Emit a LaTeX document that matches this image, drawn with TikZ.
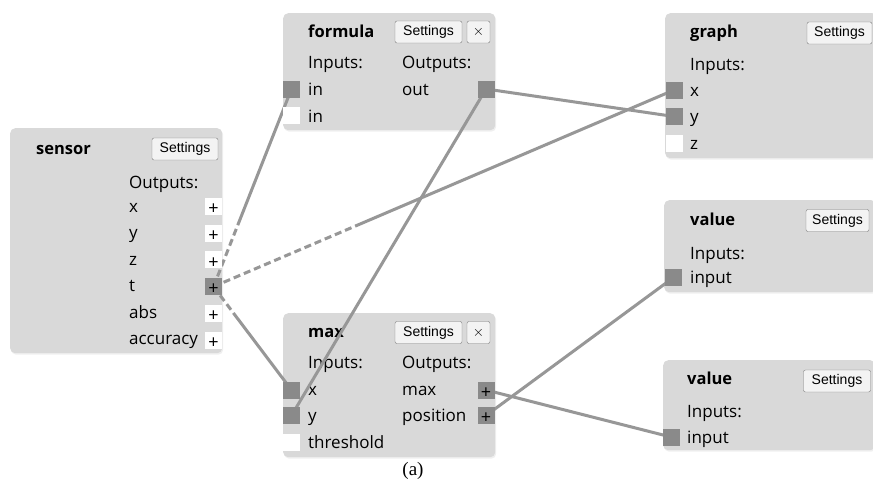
\documentclass[tikz,border=0pt]{standalone}
\usepackage{fontspec}
\usepackage{tikz}
\usetikzlibrary{positioning, shadows}
\newfontfamily\uifont{Open Sans}
\newfontfamily\btnfont{Liberation Sans}
\newfontfamily\capfont{Liberation Serif}
\definecolor{panelgray}{HTML}{D9D9D9}
\definecolor{portgray}{HTML}{8A8A8A}
\definecolor{wiregray}{HTML}{979797}
\definecolor{btnfill}{HTML}{F3F3F3}
\definecolor{btnline}{HTML}{7C7C7C}
\pgfdeclarelayer{front}
\pgfsetlayers{main,front}

\tikzset{
  panel/.style={fill=panelgray, rounded corners=5pt, anchor=north west, inner sep=0pt,
    drop shadow={opacity=0.12, shadow xshift=1pt, shadow yshift=-1.5pt}},
  title/.style={anchor=base west, inner sep=0pt, font=\uifont\bfseries\fontsize{16.5}{19}\selectfont},
  txt/.style={anchor=base west, inner sep=0pt, font=\uifont\fontsize{17}{20}\selectfont},
  btn/.style={draw=btnline, fill=btnfill, rounded corners=2pt, inner sep=0pt,
    minimum height=22pt, font=\btnfont\fontsize{14}{16}\selectfont},
  port/.style={fill=portgray, minimum size=17pt, inner sep=0pt},
  freeport/.style={fill=white, minimum size=17pt, inner sep=0pt},
  plus/.style={label={[font=\uifont\fontsize{18}{18}\selectfont, inner sep=0pt, yshift=-3pt]center:+}},
  wire/.style={draw=wiregray, line width=3pt},
  tdash short/.style={dash pattern=on 7pt off 4pt on 7pt off 4pt on 7pt off 4pt on 2000pt off 1pt},
  tdash mid/.style={dash pattern=on 7pt off 4pt on 7pt off 4pt on 7pt off 4pt on 7pt off 4pt
    on 7pt off 4pt on 7pt off 4pt on 2000pt off 1pt},
  tdash long/.style={dash pattern=on 7pt off 4pt on 7pt off 4pt on 7pt off 4pt on 7pt off 4pt
    on 7pt off 4pt on 7pt off 4pt on 7pt off 4pt on 7pt off 4pt on 7pt off 4pt on 7pt off 4pt
    on 7pt off 4pt on 7pt off 4pt on 7pt off 4pt on 7pt off 4pt on 2000pt off 1pt},
}

\begin{document}
\begin{tikzpicture}[x=1pt, y=-1pt]
  \path[fill=white, use as bounding box] (0,0) rectangle (873,483);

  % sensor
  \node[panel, minimum width=212pt, minimum height=225pt] (sensor) at (10,128) {};
  \node[title] (sensortitle) at (36,154) {sensor};
  \node[btn, minimum width=66pt] (sensorset) at (185,149) {Settings};
  \node[txt] (sensorout) at (129,188) {Outputs:};
  \node[txt] (sensorxl) at (129,212.5) {x};
  \node[txt] (sensoryl) at (129,238.9) {y};
  \node[txt] (sensorzl) at (129,265.3) {z};
  \node[txt] (sensortl) at (129,291.7) {t};
  \node[txt] (sensorabsl) at (129,318.1) {abs};
  \node[txt] (sensoraccl) at (129,344.5) {accuracy};

  % formula
  \node[panel, minimum width=212pt, minimum height=117pt] (formula) at (283,13) {};
  \node[title] (formulatitle) at (308,37) {formula};
  \node[btn, minimum width=67pt] (formulaset) at (428.5,32) {Settings};
  \node[btn, minimum width=23pt] (formulaclose) at (478.5,32) {$\times$};
  \node[txt] (formulain) at (308,68) {Inputs:};
  \node[txt] (formulaout) at (402,68) {Outputs:};
  \node[txt] (formulainal) at (308,95) {in};
  \node[txt] (formulainbl) at (308,122) {in};
  \node[txt] (formulaoutl) at (402,95) {out};

  % graph
  \node[panel, minimum width=212pt, minimum height=145pt] (graph) at (665,13) {};
  \node[title] (graphtitle) at (690,37) {graph};
  \node[btn, minimum width=65pt] (graphset) at (839.5,33) {Settings};
  \node[txt] (graphin) at (690,70) {Inputs:};
  \node[txt] (graphxl) at (690,96) {x};
  \node[txt] (graphyl) at (690,122.5) {y};
  \node[txt] (graphzl) at (690,149) {z};

  % value (upper)
  \node[panel, minimum width=212pt, minimum height=92pt] (valuea) at (664,200) {};
  \node[title] (valueatitle) at (690,225) {value};
  \node[btn, minimum width=63pt] (valueaset) at (837.5,220.5) {Settings};
  \node[txt] (valueain) at (690,259) {Inputs:};
  \node[txt] (valueainl) at (690,283) {input};

  % value (lower)
  \node[panel, minimum width=212pt, minimum height=90pt] (valueb) at (663,360) {};
  \node[title] (valuebtitle) at (687,384) {value};
  \node[btn, minimum width=67pt] (valuebset) at (837,381) {Settings};
  \node[txt] (valuebin) at (687,417) {Inputs:};
  \node[txt] (valuebinl) at (687,443) {input};

  % max
  \node[panel, minimum width=212pt, minimum height=144pt] (max) at (283,313) {};
  \node[title] (maxtitle) at (308,337) {max};
  \node[btn, minimum width=67pt] (maxset) at (428.5,332.5) {Settings};
  \node[btn, minimum width=23pt] (maxclose) at (478.5,332.5) {$\times$};
  \node[txt] (maxin) at (308,368) {Inputs:};
  \node[txt] (maxout) at (402,368) {Outputs:};
  \node[txt] (maxxl) at (308,395) {x};
  \node[txt] (maxyl) at (308,421.5) {y};
  \node[txt] (maxthrl) at (308,448) {threshold};
  \node[txt] (maxmaxl) at (402,395) {max};
  \node[txt] (maxposl) at (402,421.5) {position};

  \node[font=\capfont\fontsize{19}{22}\selectfont] (caption) at (413,471) {(a)};

  % ports
  \begin{pgfonlayer}{front}
    \node[freeport, plus] (sensorx) at (213.5,206.5) {};
    \node[freeport, plus] (sensory) at (213.5,233.2) {};
    \node[freeport, plus] (sensorz) at (213.5,259.9) {};
    \node[port, plus] (sensort) at (213.5,286.6) {};
    \node[freeport, plus] (sensorabs) at (213.5,313.3) {};
    \node[freeport, plus] (sensoracc) at (213.5,340) {};

    \node[port] (formina) at (291.5,89) {};
    \node[freeport] (forminb) at (291.5,115) {};
    \node[port] (formout) at (486,89) {};

    \node[port] (graphx) at (674,90) {};
    \node[port] (graphy) at (674,116.5) {};
    \node[freeport] (graphz) at (674,143.5) {};

    \node[port] (valueainput) at (673.5,277.5) {};
    \node[port] (valuebinput) at (671,437) {};

    \node[port] (maxx) at (291.5,390) {};
    \node[port] (maxy) at (291.5,415.5) {};
    \node[freeport] (maxthr) at (291.5,442) {};
    \node[port, plus] (maxmax) at (486,390) {};
    \node[port, plus] (maxpos) at (486,415.5) {};
  \end{pgfonlayer}

  % wires
  \draw[wire, tdash mid] (sensort.center) -- (formina.center);
  \draw[wire, tdash long] (sensort.center) -- (graphx.center);
  \draw[wire, tdash short] (sensort.center) -- (maxx.center);
  \draw[wire] (formout.center) -- (graphy.center);
  \draw[wire] (maxy.center) -- (formout.center);
  \draw[wire] (maxmax.center) -- (valuebinput.center);
  \draw[wire] (maxpos.center) -- (valueainput.center);
\end{tikzpicture}
\end{document}
